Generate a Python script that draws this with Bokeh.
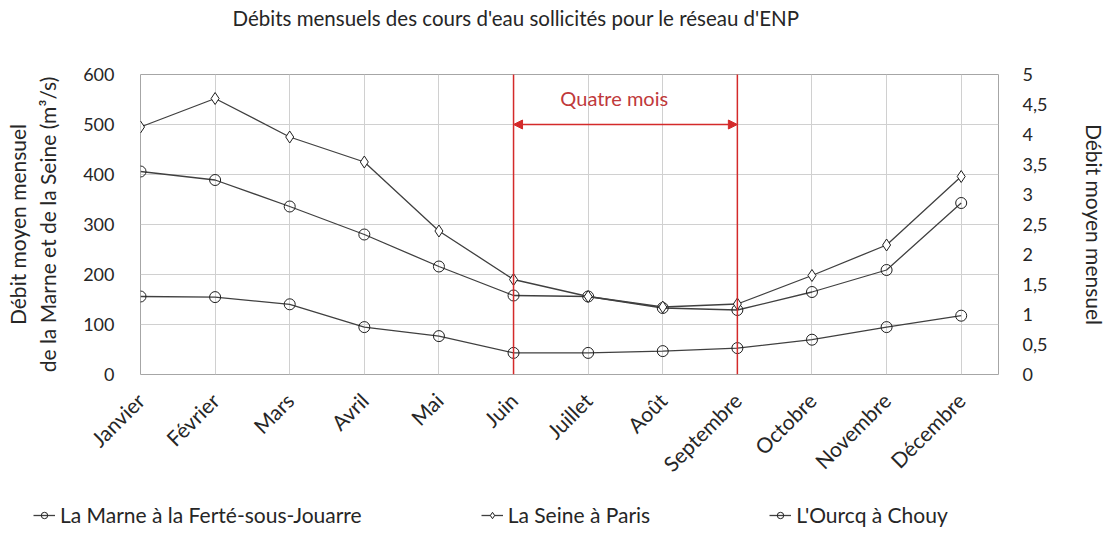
import math
from bokeh.plotting import figure
from bokeh.layouts import column
from bokeh.models import (Range1d, LinearAxis, FixedTicker, SingleIntervalTicker,
                          CustomJSTickFormatter, Legend, LegendItem, Label, Arrow, NormalHead)
from bokeh.embed import file_html
from bokeh.resources import INLINE

# ---- data ----
months = ["Janvier", "Février", "Mars", "Avril", "Mai", "Juin", "Juillet",
          "Août", "Septembre", "Octobre", "Novembre", "Décembre"]
marne = [406, 389, 336, 280, 216, 158, 156, 133, 129, 165, 209, 343]
seine = [495, 552, 475, 425, 287, 190, 156, 135, 141, 198, 259, 396]
ourcq = [1.30, 1.29, 1.17, 0.79, 0.64, 0.36, 0.36, 0.39, 0.44, 0.58, 0.79, 0.98]
series_names = ["La Marne à la Ferté-sous-Jouarre", "La Seine à Paris", "L'Ourcq à Chouy"]
period_start = 5   # Juin
period_end = 8     # Septembre
period_level = 500
period_text = "Quatre mois"
title_text = "Débits mensuels des cours d'eau sollicités pour le réseau d'ENP"
left_label = "Débit moyen mensuel\nde la Marne et de la Seine (m³/s)"
right_label = "Débit moyen mensuel"

x = list(range(len(months)))

FONT = "Lato"
TXT = "#262626"
LINE = "#404040"
MARK = "#202020"
RED = "#d42a2a"
DARKRED = "#c0393b"

W = 1110
H_TOP = 32
H_MAIN = 459
H_LEG = 36


def strip(height):
    f = figure(width=W, height=height, x_range=Range1d(0, W), y_range=Range1d(0, height),
               output_backend="svg", toolbar_location=None, x_axis_type=None, y_axis_type=None,
               min_border=0, min_border_left=0, min_border_right=0, min_border_top=0,
               min_border_bottom=0)
    f.outline_line_color = None
    f.frame_align = False
    return f


# ---- title strip ----
pt = strip(H_TOP)
pt.add_layout(Label(x=232, y=H_TOP - 17, text=title_text, text_align="left", text_baseline="middle",
                    text_font=FONT, text_font_size="20.5px", text_color=TXT))

# ---- main chart ----
p = figure(width=W, height=H_MAIN, x_range=Range1d(0, 11.5), y_range=Range1d(0, 600),
           output_backend="svg", toolbar_location=None,
           min_border_left=140, min_border_right=W - 1002, min_border_top=74 - H_TOP,
           min_border_bottom=H_TOP + H_MAIN - 374)
p.frame_align = False
p.extra_y_ranges = {"right": Range1d(0, 5)}
p.outline_line_color = "#a6a6a6"
p.outline_line_width = 1

xa = p.xaxis[0]
xa.ticker = FixedTicker(ticks=x)
xa.major_label_overrides = {i: m for i, m in enumerate(months)}
xa.major_label_orientation = math.pi / 4
xa.major_label_text_font = FONT
xa.major_label_text_font_size = "21px"
xa.major_label_text_color = TXT
xa.major_label_standoff = 22

ya = p.yaxis[0]
ya.ticker = SingleIntervalTicker(interval=100)
ya.axis_label = left_label
ya.axis_label_text_font = FONT
ya.axis_label_text_font_size = "21px"
ya.axis_label_text_font_style = "normal"
ya.axis_label_text_color = TXT
ya.axis_label_standoff = 20
ya.major_label_text_font = FONT
ya.major_label_text_font_size = "18px"
ya.major_label_text_color = TXT
ya.major_label_standoff = 22

ra = LinearAxis(y_range_name="right", ticker=SingleIntervalTicker(interval=0.5),
                formatter=CustomJSTickFormatter(code="return tick.toString().replace('.', ',')"))
ra.axis_label = right_label
ra.axis_label_text_font = FONT
ra.axis_label_text_font_size = "21px"
ra.axis_label_text_font_style = "normal"
ra.axis_label_text_color = TXT
ra.axis_label_standoff = 32
ra.major_label_text_font = FONT
ra.major_label_text_font_size = "18px"
ra.major_label_text_color = TXT
ra.major_label_standoff = 20
p.add_layout(ra, "right")

for ax in (xa, ya, ra):
    ax.axis_line_color = None
    ax.major_tick_line_color = None
    ax.minor_tick_line_color = None
    ax.major_tick_in = 0
    ax.major_tick_out = 0

p.xgrid.ticker = FixedTicker(ticks=x)
p.ygrid.ticker = SingleIntervalTicker(interval=100)
p.grid.grid_line_color = "#d0d0d0"
p.grid.grid_line_width = 1

line_kw = dict(line_color=LINE, line_width=1.3)
circ_kw = dict(marker="circle", size=11, fill_alpha=0, line_color=MARK, line_width=1)
diam_kw = dict(marker="diamond", size=12, fill_color="white", line_color=MARK, line_width=1)

p.line(x, marne, **line_kw)
p.scatter(x, marne, **circ_kw)
p.line(x, seine, **line_kw)
p.scatter(x, seine, **diam_kw)
p.line(x, ourcq, y_range_name="right", **line_kw)
p.scatter(x, ourcq, y_range_name="right", **circ_kw)

for xv in (period_start, period_end):
    p.add_layout(Arrow(x_start=xv, y_start=0, x_end=xv, y_end=612, start=None, end=None,
                       line_color=RED, line_width=1.5))
p.add_layout(Arrow(x_start=period_start, y_start=period_level, x_end=period_end, y_end=period_level,
                   start=NormalHead(size=9, fill_color=RED, line_color=RED),
                   end=NormalHead(size=9, fill_color=RED, line_color=RED),
                   line_color=RED, line_width=1.5))
p.add_layout(Label(x=6.35, y=554, text=period_text, text_align="center", text_baseline="middle",
                   text_font=FONT, text_font_size="20px", text_color=DARKRED))

# ---- legend strip (series drawn outside its visible range, only used for the legend) ----
pl = strip(H_LEG)
pl.y_range = Range1d(-20, -10)
r1 = [pl.line(x, marne, **line_kw), pl.scatter(x, marne, **circ_kw)]
r2 = [pl.line(x, seine, **line_kw), pl.scatter(x, seine, **diam_kw)]
r3 = [pl.line(x, ourcq, **line_kw), pl.scatter(x, ourcq, **circ_kw)]
legend = Legend(items=[LegendItem(label=series_names[0], renderers=r1),
                       LegendItem(label=series_names[1], renderers=r2),
                       LegendItem(label=series_names[2], renderers=r3)],
                orientation="horizontal", location=(33, 0), spacing=119,
                glyph_width=22, glyph_height=16, label_standoff=5, padding=0, margin=0,
                border_line_alpha=0, background_fill_alpha=0,
                label_text_font=FONT, label_text_font_size="21px", label_text_color=TXT)
pl.add_layout(legend)

layout = column(pt, p, pl, spacing=0)
open("out.html", "w").write(file_html(layout, INLINE))
